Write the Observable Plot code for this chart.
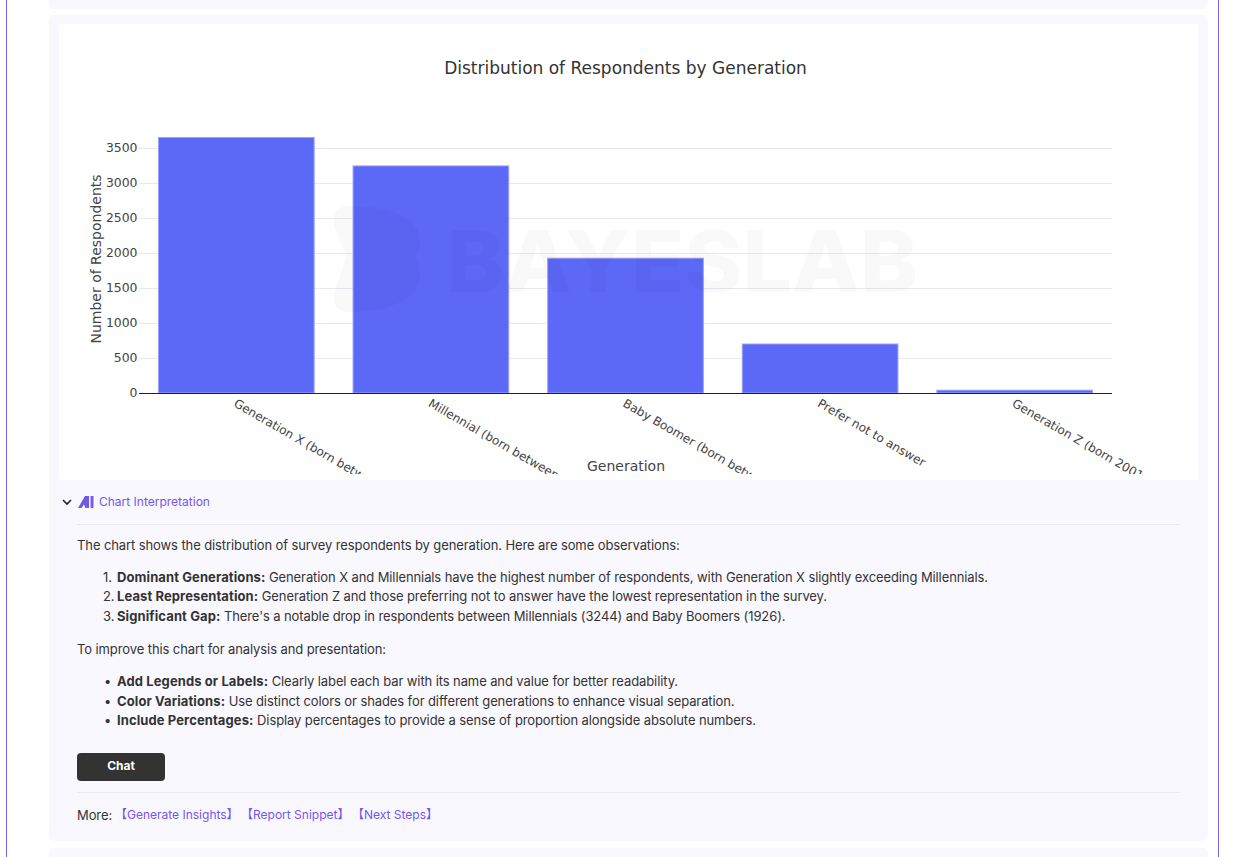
<!DOCTYPE html>
<html>
<head>
<meta charset="utf-8">
<script src="https://cdn.jsdelivr.net/npm/d3@7"></script>
<script src="https://cdn.jsdelivr.net/npm/@observablehq/plot@0.6"></script>
<style>
html,body{margin:0;padding:0;background:#fff;width:1234px;height:857px;overflow:hidden;font-family:Inter,sans-serif;color:#333}
.abs{position:absolute}
#frame{left:6px;top:-4px;width:1213px;height:870px;border:1px solid #7b5cf6;box-sizing:border-box}
.card{background:#faf8ff;border-radius:5px;left:49px;width:1159px}
#panel{left:59px;top:24px;width:1139px;height:456px;background:#fff}
#chart{left:59px;top:24px}
#title{left:59px;width:1133px;top:58px;text-align:center;font:17px "DejaVu Sans",sans-serif;color:#333}
.line{font-size:13px;line-height:18px;white-space:nowrap;color:#333;letter-spacing:-.1px}
.line b{font-weight:700;letter-spacing:.1px}
.rule{left:77px;width:1103px;height:1px;background:#e9e7f1}
.link{color:#7356f1;font-size:12px;line-height:16px;white-space:nowrap}
#btn{left:77px;top:753px;width:88px;height:28px;background:#333;border-radius:4px;color:#fff;font-size:12px;font-weight:700;text-align:center;line-height:25px}
#wm{left:0;top:0;pointer-events:none}
</style>
</head>
<body>
<div class="abs" id="frame"></div>
<div class="abs card" style="top:-10px;height:19px"></div>
<div class="abs card" style="top:15px;height:826px"></div>
<div class="abs card" style="top:848px;height:20px"></div>
<div class="abs" id="panel"></div>
<div class="abs" id="chart"></div>
<div class="abs" id="title">Distribution of Respondents by Generation</div>
<svg class="abs" id="wm" width="1234" height="857">
  <path d="M349 206C336 206 331 214 335 228L346 258L335 290C331 304 336 312 349 312C395 312 420 296 420 275C420 268 418 262 415 258C418 254 420 248 420 240C420 220 395 206 349 206Z" fill="#000" fill-opacity=".022"/>
  <text x="446" y="292" font-family="Inter,sans-serif" font-weight="800" font-size="85" fill="#000" fill-opacity=".022" textLength="472" lengthAdjust="spacingAndGlyphs">BAYESLAB</text>
</svg>

<svg class="abs" style="left:62px;top:497px" width="10" height="10"><path d="M1 3L5 7L9 3" fill="none" stroke="#222" stroke-width="1.6"/></svg>
<svg class="abs" style="left:78px;top:495px" width="18" height="14"><path d="M0 13L7 1H11V13H7.5L6 9.5L3.5 13Z" fill="#6d5be8"/><rect x="12.5" y="1" width="3" height="12" fill="#7b5cf6"/></svg>
<div class="abs link" style="left:99px;top:494px">Chart Interpretation</div>
<div class="abs rule" style="top:524px"></div>

<div class="abs line" style="left:77px;top:536px">The chart shows the distribution of survey respondents by generation. Here are some observations:</div>
<div class="abs line" style="left:103px;top:568px">1.</div>
<div class="abs line" style="left:117px;top:568px"><b>Dominant Generations:</b> Generation X and Millennials have the highest number of respondents, with Generation X slightly exceeding Millennials.</div>
<div class="abs line" style="left:103px;top:587px">2.</div>
<div class="abs line" style="left:117px;top:587px"><b>Least Representation:</b> Generation Z and those preferring not to answer have the lowest representation in the survey.</div>
<div class="abs line" style="left:103px;top:607px">3.</div>
<div class="abs line" style="left:117px;top:607px"><b>Significant Gap:</b> There's a notable drop in respondents between Millennials (3244) and Baby Boomers (1926).</div>
<div class="abs line" style="left:77px;top:640px">To improve this chart for analysis and presentation:</div>
<div class="abs line" style="left:104px;top:672px">•</div>
<div class="abs line" style="left:117px;top:672px"><b>Add Legends or Labels:</b> Clearly label each bar with its name and value for better readability.</div>
<div class="abs line" style="left:104px;top:692px">•</div>
<div class="abs line" style="left:117px;top:692px"><b>Color Variations:</b> Use distinct colors or shades for different generations to enhance visual separation.</div>
<div class="abs line" style="left:104px;top:711px">•</div>
<div class="abs line" style="left:117px;top:711px"><b>Include Percentages:</b> Display percentages to provide a sense of proportion alongside absolute numbers.</div>
<div class="abs" id="btn">Chat</div>
<div class="abs rule" style="top:792px"></div>
<div class="abs line" style="left:77px;top:806px">More:</div>
<div class="abs link" style="left:115px;top:807px;font-family:Inter,'Noto Sans CJK SC',sans-serif">【Generate Insights】</div>
<div class="abs link" style="left:241px;top:807px;font-family:Inter,'Noto Sans CJK SC',sans-serif">【Report Snippet】</div>
<div class="abs link" style="left:352px;top:807px;font-family:Inter,'Noto Sans CJK SC',sans-serif">【Next Steps】</div>

<script>
const generations = [
  "Generation X (born between 1965 and 1980)",
  "Millennial (born between 1981 and 2000)",
  "Baby Boomer (born between 1946 and 1964)",
  "Prefer not to answer",
  "Generation Z (born 2001 or later)"
];
const respondents = [3650, 3244, 1926, 700, 40];
const yTicks = [0, 500, 1000, 1500, 2000, 2500, 3000, 3500];
const table = generations.map((g, i) => ({generation: g, count: respondents[i]}));

const plot = Plot.plot({
  width: 1139,
  height: 450,
  marginLeft: 80,
  marginRight: 86,
  marginTop: 100,
  marginBottom: 81,
  style: {background: "transparent", fontFamily: "'DejaVu Sans',sans-serif", overflow: "hidden", color: "#444"},
  x: {domain: generations, paddingInner: 0.2, paddingOuter: 0.1, align: 0.5, round: false},
  y: {domain: [0, 3843]},
  marks: [
    Plot.gridY(yTicks, {stroke: "#e8e8ee", strokeOpacity: 1, strokeWidth: 1}),
    Plot.barY(table, {x: "generation", y: "count", fill: "#5c68f6", stroke: "#9aa2fa", strokeWidth: 1}),
    Plot.ruleY([0], {stroke: "#222", strokeWidth: 1, strokeOpacity: 1}),
    Plot.axisY({ticks: yTicks, tickFormat: "d", tickSize: 0, tickPadding: 2, fontSize: 12.4, label: "Number of Respondents", labelAnchor: "center", labelArrow: "none", labelOffset: 48, fill: "#444"}),
    Plot.axisX({tickSize: 0, tickPadding: 9, tickRotate: 30, fontSize: 12, dx: -2, textOverflow: null, lineWidth: 100, label: "Generation", labelAnchor: "center", labelArrow: "none", labelOffset: 77, fill: "#444"})
  ]
});
plot.querySelectorAll("[aria-label='y-axis label'] text, [aria-label='x-axis label'] text").forEach(t => { t.setAttribute("font-size", 14); t.style.fontSize = "14px"; });
document.getElementById("chart").appendChild(plot);
</script>
</body>
</html>
